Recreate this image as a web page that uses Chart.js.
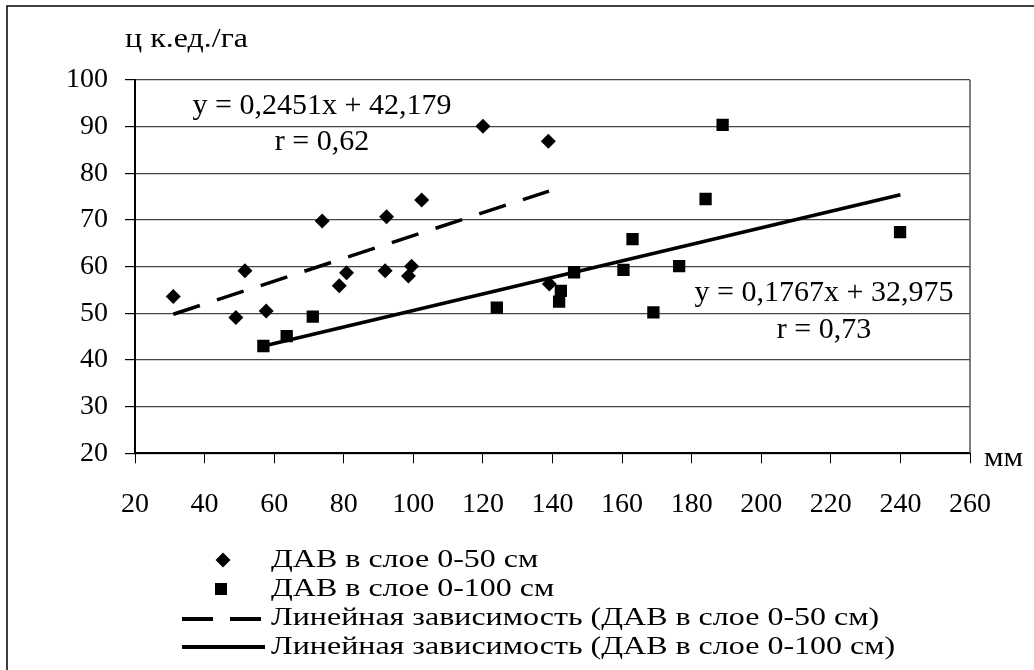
<!DOCTYPE html>
<html>
<head>
<meta charset="utf-8">
<script src="https://cdn.jsdelivr.net/npm/chart.js@4.4.0/dist/chart.umd.min.js"></script>
<style>
    body { margin: 0; background: #fff; }
</style>
</head>
<body>
<canvas id="grafico" width="1034" height="670"></canvas>
<script>
// ДАВ в слое 0-50 см (ромбы)
const dav50X = [31.0, 49.0, 51.6, 57.7, 73.8, 78.7, 80.8, 91.9, 92.3, 98.6, 99.5, 102.4, 120.0, 138.8, 139.1];
const dav50Y = [53.6, 49.1, 59.1, 50.5, 69.8, 55.9, 58.7, 59.1, 70.7, 58.0, 60.1, 74.3, 90.1, 86.9, 56.3];

// ДАВ в слое 0-100 см (квадраты)
const dav100X = [56.9, 63.6, 71.1, 124.0, 141.9, 142.4, 146.2, 160.4, 163.0, 169.0, 176.4, 184.0, 188.9, 239.9];
const dav100Y = [43.0, 45.1, 49.3, 51.2, 52.5, 54.8, 58.8, 59.3, 65.9, 50.2, 60.1, 74.5, 90.4, 67.4];

// линии тренда (концы)
const trend50X = [31, 139];
const trend50Y = [49.8, 76.2];
const trend100X = [57, 240];
const trend100Y = [43.0, 75.4];

const legendLabels = [
    'ДАВ в слое 0-50 см',
    'ДАВ в слое 0-100 см',
    'Линейная зависимость (ДАВ в слое 0-50 см)',
    'Линейная зависимость (ДАВ в слое 0-100 см)'
];
const eq50 = ['y = 0,2451x + 42,179', 'r = 0,62'];
const eq100 = ['y = 0,1767x + 32,975', 'r = 0,73'];
const yTitle = 'ц к.ед./га';
const xTitle = 'мм';

const fonte = '"Liberation Serif", "Times New Roman", serif';

function pares(xs, ys) {
    return xs.map((x, i) => ({ x: x, y: ys[i] }));
}

// текст с вертикальным сжатием, как в исходном рисунке
function texto(ctx, t, x, y, size, sy, align) {
    ctx.save();
    ctx.font = size + 'px ' + fonte;
    ctx.textAlign = align;
    ctx.textBaseline = 'middle';
    ctx.translate(x, y);
    ctx.scale(1, sy);
    ctx.fillText(t, 0, 0);
    ctx.restore();
}

const extras = {
    id: 'extras',
    beforeDatasetsDraw(chart) {
        const ctx = chart.ctx;
        const a = chart.chartArea;
        ctx.save();
        ctx.strokeStyle = '#555';
        ctx.lineWidth = 1.5;
        ctx.beginPath();
        ctx.moveTo(a.right, a.top);
        ctx.lineTo(a.right, a.bottom);
        ctx.stroke();
        ctx.restore();
    },
    afterDraw(chart) {
        const ctx = chart.ctx;
        ctx.save();

        // рамка
        ctx.strokeStyle = '#000';
        ctx.lineWidth = 1.5;
        ctx.beginPath();
        ctx.moveTo(7, 670);
        ctx.lineTo(7, 6);
        ctx.lineTo(1034, 6);
        ctx.stroke();

        ctx.fillStyle = '#000';
        texto(ctx, yTitle, 125, 40, 32, 0.88, 'left');
        texto(ctx, xTitle, 984, 459, 31, 0.85, 'left');

        texto(ctx, eq50[0], 322, 106, 30, 1, 'center');
        texto(ctx, eq50[1], 322, 142, 30, 1, 'center');
        texto(ctx, eq100[0], 824, 293, 30, 1, 'center');
        texto(ctx, eq100[1], 824, 330, 30, 1, 'center');

        // легенда
        const ys = [560, 589, 618, 647];
        legendLabels.forEach((t, i) => texto(ctx, t, 271, ys[i], 32, 0.78, 'left'));

        ctx.beginPath();
        ctx.moveTo(223, ys[0] - 7.5);
        ctx.lineTo(230.5, ys[0]);
        ctx.lineTo(223, ys[0] + 7.5);
        ctx.lineTo(215.5, ys[0]);
        ctx.closePath();
        ctx.fill();
        ctx.fillRect(215, ys[1] - 6, 12, 12);

        ctx.strokeStyle = '#000';
        ctx.lineWidth = 4;
        ctx.setLineDash([31, 17]);
        ctx.beginPath();
        ctx.moveTo(182, ys[2] + 1);
        ctx.lineTo(261, ys[2] + 1);
        ctx.stroke();
        ctx.setLineDash([]);
        ctx.beginPath();
        ctx.moveTo(182, ys[3]);
        ctx.lineTo(265, ys[3]);
        ctx.stroke();

        ctx.restore();
    }
};

const ctx = document.getElementById('grafico').getContext('2d');

new Chart(ctx, {
    type: 'scatter',
    data: {
        datasets: [
            {
                label: legendLabels[0],
                data: pares(dav50X, dav50Y),
                pointStyle: 'rectRot',
                pointRadius: 7.5,
                backgroundColor: '#000',
                borderColor: '#000',
                borderWidth: 0,
                order: 1
            },
            {
                label: legendLabels[1],
                data: pares(dav100X, dav100Y),
                pointStyle: 'rect',
                pointRadius: 8.7,
                backgroundColor: '#000',
                borderColor: '#000',
                borderWidth: 0,
                order: 1
            },
            {
                label: legendLabels[2],
                type: 'line',
                data: pares(trend50X, trend50Y),
                borderColor: '#000',
                borderWidth: 3.5,
                borderDash: [28, 18],
                pointRadius: 0,
                fill: false,
                order: 2
            },
            {
                label: legendLabels[3],
                type: 'line',
                data: pares(trend100X, trend100Y),
                borderColor: '#000',
                borderWidth: 3.5,
                pointRadius: 0,
                fill: false,
                order: 2
            }
        ]
    },
    options: {
        responsive: false,
        animation: false,
        layout: {
            padding: { left: 0, top: 80, right: 64, bottom: 0 }
        },
        plugins: {
            legend: { display: false },
            tooltip: { enabled: false }
        },
        scales: {
            x: {
                type: 'linear',
                min: 20,
                max: 260,
                afterFit(scale) { scale.height = 216.7; },
                ticks: {
                    stepSize: 20,
                    color: '#000',
                    padding: 25,
                    font: { family: fonte, size: 28 }
                },
                grid: {
                    drawOnChartArea: false,
                    drawTicks: true,
                    tickLength: 10,
                    tickColor: '#000'
                },
                border: { display: true, color: '#000', width: 2 }
            },
            y: {
                min: 20,
                max: 100,
                afterFit(scale) { scale.width = 135; },
                ticks: {
                    stepSize: 10,
                    color: '#000',
                    padding: 17,
                    font: { family: fonte, size: 28 }
                },
                grid: {
                    color: '#444',
                    lineWidth: 1.2,
                    drawTicks: true,
                    tickLength: 10,
                    tickColor: '#000'
                },
                border: { display: true, color: '#000', width: 2 }
            }
        }
    },
    plugins: [extras]
});
</script>
</body>
</html>
